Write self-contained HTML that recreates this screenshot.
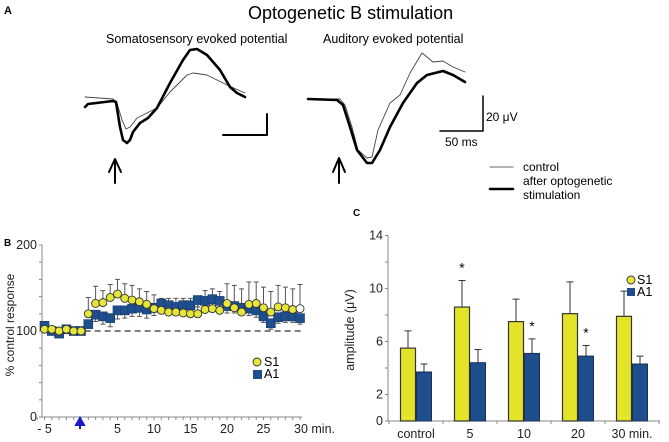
<!DOCTYPE html>
<html><head><meta charset="utf-8"><style>
body{margin:0;background:#fff}
svg{display:block;font-family:"Liberation Sans",sans-serif}
</style></head><body>
<svg id="fig" width="669" height="442" viewBox="0 0 669 442">
<text x="4" y="14" font-size="11" font-weight="bold">A</text>
<text x="248" y="19" font-size="18">Optogenetic B stimulation</text>
<text x="106" y="43" font-size="12.5">Somatosensory evoked potential</text>
<text x="323" y="43" font-size="12.5">Auditory evoked potential</text>
<g fill="none" stroke-linejoin="round" stroke-linecap="round">
<path stroke="#444" stroke-width="0.9" d="M85,97 L113,99 L117,103 L122,120 L126,129 L130,127 L137,118 L147,113 L157,108 L170,92 L187,75 L193,73 L207,75 L227,85 L245,93"/>
<path stroke="#000" stroke-width="2.6" d="M85,107 L88,104 L113,101 L116,102 L120,127 L123,140 L127,143 L130,140 L133,132 L140,123 L148,118 L157,108 L170,83 L183,60 L190,50 L197,49 L207,55 L220,70 L230,87 L237,93 L245,97"/>
<path stroke="#444" stroke-width="0.9" d="M308,99 L340,99 L345,105 L352,127 L358,150 L367,158 L372,157 L378,130 L390,103 L400,95 L410,73 L422,53 L427,57 L433,62 L443,61 L453,67 L465,72"/>
<path stroke="#000" stroke-width="2.6" d="M308,99 L337,100 L343,105 L350,127 L357,150 L367,163 L372,163 L380,150 L390,127 L403,103 L417,83 L427,75 L443,71 L453,75 L465,82"/>
<path stroke="#000" stroke-width="2" d="M223,135 L267,135 L267,114"/>
<path stroke="#000" stroke-width="1.5" d="M440,131 L483,131 L483,96"/>
<path stroke="#000" stroke-width="2" d="M115,183 L115,160 M109,172 L115,159 L121,172"/>
<path stroke="#000" stroke-width="2" d="M339,183 L339,159 M333,172 L339,158 L345,172"/>
<line x1="490" y1="167" x2="513" y2="167" stroke="#888" stroke-width="1.2"/>
<line x1="490" y1="189" x2="513" y2="189" stroke="#000" stroke-width="2.5"/>
</g>
<text x="486" y="121" font-size="12">20 μV</text>
<text x="445" y="146" font-size="12">50 ms</text>
<text x="523" y="171" font-size="12">control</text>
<text x="523" y="185" font-size="12">after optogenetic</text>
<text x="523" y="199" font-size="12">stimulation</text>
<text x="4" y="246" font-size="10" font-weight="bold">B</text>
<text x="353" y="216" font-size="10" font-weight="bold">C</text>
<g id="pb"></g>
<g id="pc"></g>
</svg>
<script>
// Panel B data
const bTimes=[-5,-4,-3,-2,-1,0,1,2,3,4,5,6,7,8,9,10,11,12,13,14,15,16,17,18,19,20,21,22,23,24,25,26,27,28,29,30];
const s1Vals=[102,102,100,102,100,100,120,132,133,139,143,138,136,134,131,126,124,122,122,121,120,120,125,126,124,132,127,122,131,132,127,122,128,127,125,126];
const s1Err=[0,0,0,0,0,0,19,20,14,15,17,17,17,15,15,16,14,16,16,17,18,18,22,23,22,23,26,27,26,25,24,24,25,24,24,28];
const a1Vals=[106,100,97,102,100,100,108,119,117,115,124,124,126,127,125,127,132,130,128,130,130,136,135,137,135,129,129,127,126,124,117,109,116,117,117,115];
const a1Err=[0,0,0,0,0,0,4,8,9,10,10,9,9,10,10,9,8,8,7,7,8,8,7,7,7,8,8,7,8,8,7,7,7,7,7,7];
const bYTicks=[0,100,200];
const bXTicks=[-5,5,10,15,20,25,30];
const bXTickLabels=["- 5","5","10","15","20","25","30 min."];
// Panel C data
const cCats=["control","5","10","20","30 min."];
const cS1=[5.5,8.6,7.5,8.1,7.9];
const cS1Err=[1.3,2.0,1.7,2.4,1.9];
const cA1=[3.7,4.4,5.1,4.9,4.3];
const cA1Err=[0.6,1.0,1.1,0.8,0.6];
const cStars=[[1,"s1"],[2,"a1"],[3,"a1"]];
const cYTicks=[0,2,6,10,14];

const NS="http://www.w3.org/2000/svg";
function mk(parent,tag,attrs,txt){const e=document.createElementNS(NS,tag);for(const k in attrs)e.setAttribute(k,attrs[k]);if(txt!==undefined)e.textContent=txt;parent.appendChild(e);return e;}

// ---- Panel B ----
const pb=document.getElementById('pb');
const bx=t=>81+7.3*t;
const by=v=>417-0.86*v;
let e;
e=mk(pb,'line',{x1:42,y1:by(200),x2:42,y2:by(0),stroke:'#888','stroke-width':1});


e=mk(pb,'line',{x1:42,y1:by(0),x2:302,y2:by(0),stroke:'#888','stroke-width':1});


for(let v=0;v<=200;v+=20){mk(pb,'line',{x1:39,y1:by(v),x2:42,y2:by(v),stroke:'#888'});}
for(let t=-6;t<=30;t++){mk(pb,'line',{x1:bx(t),y1:by(0),x2:bx(t),y2:by(0)+3,stroke:'#888'});}
bYTicks.forEach(v=>{e=mk(pb,'text',{x:37,y:by(v)+4,'font-size':12.5,'text-anchor':'end',fill:'#222'},String(v));

});
bXTicks.forEach((t,i)=>{const lab=bXTickLabels[i];const anc=lab.indexOf('min')>=0?'start':'middle';const xx=anc==='start'?bx(t)-6:bx(t);
e=mk(pb,'text',{x:xx,y:433,'font-size':12.5,'text-anchor':anc,fill:'#222'},lab);

});
e=mk(pb,'text',{x:14,y:325,'font-size':12,'text-anchor':'middle',fill:'#222',transform:'rotate(-90 14 325)'},'% control response');


e=mk(pb,'line',{x1:bx(0.5),y1:by(100),x2:bx(30.5),y2:by(100),stroke:'#333','stroke-dasharray':'6,4','stroke-width':1.2});


e=mk(pb,'path',{d:'M80,429 L80,422 M76,425 L80,418 L84,425 Z',fill:'#1a1acc',stroke:'#1a1acc','stroke-width':2});


bTimes.forEach((t,i)=>{if(s1Err[i]>0){const x=bx(t);mk(pb,'path',{d:`M${x},${by(s1Vals[i])} L${x},${by(s1Vals[i]+s1Err[i])} M${x-2.5},${by(s1Vals[i]+s1Err[i])} L${x+2.5},${by(s1Vals[i]+s1Err[i])}`,stroke:'#555','stroke-width':1,fill:'none'});}
if(a1Err[i]>0){const x=bx(t);mk(pb,'path',{d:`M${x},${by(a1Vals[i])} L${x},${by(a1Vals[i]-a1Err[i])} M${x-2.5},${by(a1Vals[i]-a1Err[i])} L${x+2.5},${by(a1Vals[i]-a1Err[i])}`,stroke:'#555','stroke-width':1,fill:'none'});}});
bTimes.forEach((t,i)=>{e=mk(pb,'rect',{x:bx(t)-4.5,y:by(a1Vals[i])-4.5,width:9,height:9,fill:'#1f4e8c',stroke:'#163a6a','stroke-width':0.6});

});
bTimes.forEach((t,i)=>{e=mk(pb,'circle',{cx:bx(t),cy:by(s1Vals[i]),r:4,fill:i===bTimes.length-1?'#fff':'#e6e63a',stroke:'#333','stroke-width':0.9});

});
e=mk(pb,'circle',{cx:257,cy:362,r:4,fill:'#e6e63a',stroke:'#333','stroke-width':0.9});


e=mk(pb,'text',{x:264,y:366,'font-size':12.5},'S1');


e=mk(pb,'rect',{x:253,y:370,width:9,height:9,fill:'#1f4e8c'});


e=mk(pb,'text',{x:264,y:378,'font-size':12.5},'A1');



// ---- Panel C ----
const pc=document.getElementById('pc');
const cx=i=>416+54*i;
const cy=v=>421-13.25*v;
e=mk(pc,'line',{x1:388,y1:cy(14),x2:388,y2:cy(0),stroke:'#888'});


e=mk(pc,'line',{x1:388,y1:cy(0),x2:660,y2:cy(0),stroke:'#888'});


for(let v=0;v<=14;v+=2){mk(pc,'line',{x1:385,y1:cy(v),x2:388,y2:cy(v),stroke:'#888'});}
for(let i=0;i<=5;i++){mk(pc,'line',{x1:cx(i)-27,y1:cy(0),x2:cx(i)-27,y2:cy(0)+3,stroke:'#888'});}
cYTicks.forEach(v=>{e=mk(pc,'text',{x:383,y:cy(v)+4,'font-size':12.5,'text-anchor':'end',fill:'#222'},String(v));

});
cCats.forEach((c,i)=>{e=mk(pc,'text',{x:cx(i),y:438,'font-size':12.5,'text-anchor':'middle',fill:'#222'},c);

});
e=mk(pc,'text',{x:354,y:330,'font-size':12.5,'text-anchor':'middle',fill:'#222',transform:'rotate(-90 354 330)'},'amplitude (μV)');


cCats.forEach((c,i)=>{
 const x1=cx(i)-15.5,x2=cx(i)+0.5;
 mk(pc,'path',{d:`M${x1+7.5},${cy(cS1[i])} L${x1+7.5},${cy(cS1[i]+cS1Err[i])} M${x1+4},${cy(cS1[i]+cS1Err[i])} L${x1+11},${cy(cS1[i]+cS1Err[i])}`,stroke:'#333',fill:'none'});
 mk(pc,'path',{d:`M${x2+7.5},${cy(cA1[i])} L${x2+7.5},${cy(cA1[i]+cA1Err[i])} M${x2+4},${cy(cA1[i]+cA1Err[i])} L${x2+11},${cy(cA1[i]+cA1Err[i])}`,stroke:'#333',fill:'none'});
 e=mk(pc,'rect',{x:x1,y:cy(cS1[i]),width:15,height:cy(0)-cy(cS1[i]),fill:'#e3e32a',stroke:'#333','stroke-width':1.2});
 
 
 e=mk(pc,'rect',{x:x2,y:cy(cA1[i]),width:15,height:cy(0)-cy(cA1[i]),fill:'#1f4e8c',stroke:'#1a2f55','stroke-width':1});
 
 
});
cStars.forEach(([i,s])=>{const x=s==='s1'?cx(i)-8:cx(i)+8;const top=s==='s1'?cS1[i]+cS1Err[i]:cA1[i]+cA1Err[i];
 e=mk(pc,'text',{x:x,y:cy(top)-8,'font-size':14,'text-anchor':'middle'},'*');
 
 });
e=mk(pc,'circle',{cx:631,cy:280,r:4,fill:'#e6e63a',stroke:'#333','stroke-width':0.9});


e=mk(pc,'text',{x:637,y:284,'font-size':12.5},'S1');


e=mk(pc,'rect',{x:627,y:288,width:8,height:8,fill:'#1f4e8c'});


e=mk(pc,'text',{x:637,y:296,'font-size':12.5},'A1');


</script>
</body></html>
